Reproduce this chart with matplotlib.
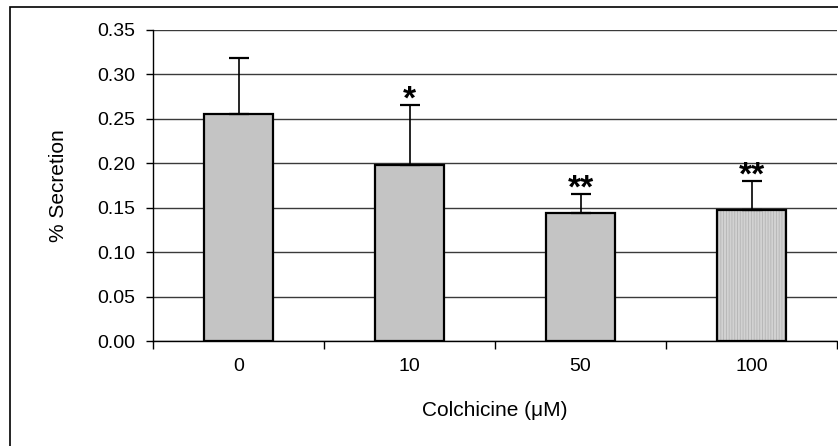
import matplotlib
matplotlib.use("Agg")
import matplotlib.pyplot as plt
from matplotlib.patches import Rectangle

categories = ["0", "10", "50", "100"]
values = [0.256, 0.198, 0.144, 0.148]
errors = [0.063, 0.068, 0.022, 0.032]
stars = ["", "*", "**", "**"]
yticks = [0.00, 0.05, 0.10, 0.15, 0.20, 0.25, 0.30, 0.35]

plt.rcParams['font.family'] = ['Liberation Sans', 'DejaVu Sans']
plt.rcParams['hatch.linewidth'] = 0.6

fig = plt.figure(figsize=(8.38, 4.46), dpi=100)
fig.patch.set_facecolor('white')
fig.add_artist(Rectangle((10/838, -0.05), 1.1, 1.05 - 7/446, transform=fig.transFigure,
                         fill=False, edgecolor='black', linewidth=1.2))

ax = fig.add_axes([153/838, 1 - 341.3/446, 684/838, (341.3 - 30)/446])
x = list(range(len(categories)))
fills = ['#c4c4c4', '#c4c4c4', '#c4c4c4', '#d2d2d2']
ax.bar(x, values, width=0.4, color=fills, edgecolor='none', linewidth=0, zorder=3)
# light vertical texture on last bar
ax.bar(x[3:], values[3:], width=0.4, color='none', edgecolor='#b4b4b4', hatch='||||||',
       linewidth=0, zorder=3.5)
ax.bar(x, values, width=0.4, color='none', edgecolor='black', linewidth=1.6, zorder=4)

ax.errorbar(x, values, yerr=[[0]*len(values), errors], fmt='none', ecolor='black',
            elinewidth=1.2, capsize=7, capthick=1.6, zorder=4)

for xi, v, e, s in zip(x, values, errors, stars):
    if s:
        ax.text(xi, v + e - 0.012, s, ha='center', va='bottom', fontsize=24,
                fontweight='bold', zorder=5)

ax.set_xlim(-0.5, len(categories) - 0.5)
ax.set_ylim(0, 0.35)
ax.set_yticks(yticks)
ax.set_yticklabels([f"{t:.2f}" for t in yticks], fontsize=14)
ax.set_xticks(x)
ax.set_xticklabels(categories, fontsize=14)
ax.tick_params(axis='x', length=0, pad=12)
ax.set_xticks([i - 0.5 for i in range(len(categories) + 1)], minor=True)
ax.tick_params(axis='x', which='minor', length=6, width=1, direction='out', color='black')
ax.tick_params(axis='y', length=5, width=1, direction='out', pad=8)
ax.yaxis.grid(True, color='#3a3a3a', linewidth=1.0, zorder=0)
ax.set_axisbelow(True)
for sp in ['top', 'right']:
    ax.spines[sp].set_visible(False)
ax.spines['left'].set_linewidth(1.0)
ax.spines['bottom'].set_linewidth(1.0)

ax.set_ylabel("% Secretion", fontsize=15, labelpad=21)
ax.set_xlabel("Colchicine (\u03bcM)", fontsize=15, labelpad=19)

fig.savefig("out.png", dpi=100)
